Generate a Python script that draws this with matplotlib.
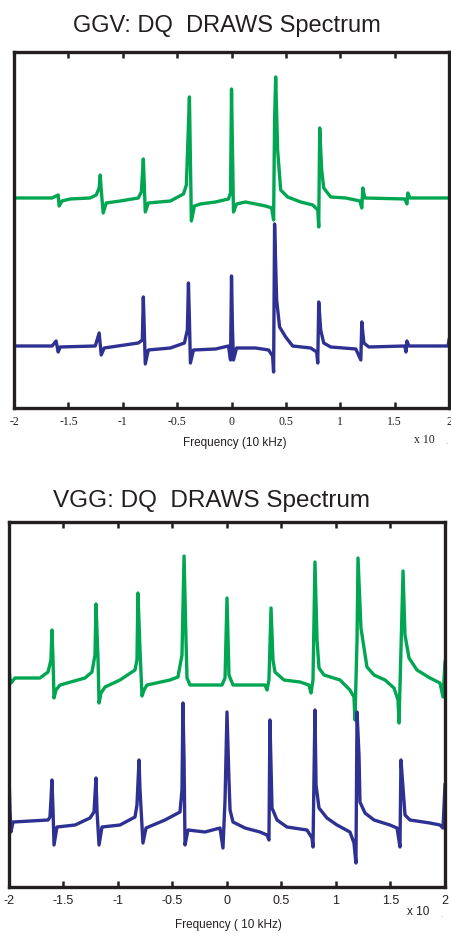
import numpy as np
from matplotlib import pyplot as plt

# frequency axis labels (10 kHz units, x 10 offset)
tick_vals = [-2, -1.5, -1, -0.5, 0, 0.5, 1, 1.5, 2]
tick_text = ['-2', '-1.5', '-1', '-0.5', '0', '0.5', '1', '1.5', '2']

# GGV spectrum, green trace (freq, intensity a.u.)
ggv_green_x = [-2.000, -1.650, -1.613, -1.594, -1.585, -1.558, -1.484, -1.300, -1.244, -1.217,
               -1.207, -1.198, -1.180, -1.152, -1.023, -0.857, -0.829, -0.811, -0.802, -0.793,
               -0.765, -0.562, -0.442, -0.415, -0.387, -0.378, -0.369, -0.341, -0.286, -0.147,
               -0.028, -0.009, 0.000, 0.009, 0.018, 0.046, 0.129, 0.221, 0.313, 0.369,
               0.387, 0.396, 0.406, 0.424, 0.452, 0.516, 0.636, 0.747, 0.793, 0.802,
               0.811, 0.829, 0.848, 0.912, 1.051, 1.180, 1.198, 1.207, 1.226, 1.594,
               1.613, 1.622, 1.641, 2.000]
ggv_green_y = [210, 210, 212, 213, 202, 207, 209, 210, 213, 220,
               233, 218, 195, 205, 207, 210, 216, 249, 223, 196,
               205, 207, 214, 223, 311, 248, 187, 202, 204, 206,
               209, 215, 319, 258, 196, 204, 206, 204, 202, 200,
               188, 288, 331, 258, 218, 211, 206, 203, 198, 181,
               280, 238, 220, 211, 210, 207, 200, 220, 210, 209,
               204, 215, 210, 210]

# GGV spectrum, blue trace
ggv_blue_x = [-2.000, -1.650, -1.613, -1.594, -1.576, -1.253, -1.217, -1.198, -1.171, -0.857,
              -0.820, -0.811, -0.802, -0.793, -0.765, -0.562, -0.433, -0.406, -0.396, -0.387,
              -0.378, -0.350, -0.147, -0.028, -0.009, 0.000, 0.009, 0.018, 0.046, 0.221,
              0.341, 0.378, 0.387, 0.396, 0.415, 0.442, 0.498, 0.562, 0.728, 0.783,
              0.793, 0.802, 0.820, 0.848, 0.912, 1.143, 1.189, 1.198, 1.217, 1.263,
              1.594, 1.604, 1.613, 1.631, 1.991, 2.000]
ggv_blue_y = [62, 62, 67, 56, 61, 62, 75, 53, 60, 65,
              68, 111, 78, 44, 58, 60, 65, 78, 125, 88,
              45, 58, 59, 62, 48, 132, 78, 48, 60, 60,
              58, 52, 36, 184, 108, 81, 71, 62, 60, 56,
              45, 106, 78, 65, 61, 59, 48, 86, 65, 61,
              62, 56, 67, 62, 62, 68]

# VGG spectrum, green trace
vgg_green_x = [-2.000, -1.991, -1.982, -1.945, -1.716, -1.642, -1.615, -1.606, -1.596, -1.587,
               -1.569, -1.532, -1.303, -1.239, -1.211, -1.202, -1.183, -1.174, -1.156, -1.119,
               -0.982, -0.844, -0.826, -0.817, -0.798, -0.780, -0.761, -0.734, -0.523, -0.450,
               -0.413, -0.394, -0.376, -0.367, -0.339, -0.046, -0.018, 0.000, 0.018, 0.055,
               0.349, 0.367, 0.385, 0.404, 0.422, 0.440, 0.523, 0.670, 0.752, 0.771,
               0.789, 0.807, 0.826, 0.844, 0.890, 1.037, 1.128, 1.165, 1.174, 1.193,
               1.202, 1.229, 1.284, 1.349, 1.450, 1.532, 1.569, 1.578, 1.596, 1.615,
               1.633, 1.670, 1.743, 1.862, 1.954, 1.982, 2.000]
vgg_green_y = [220, 207, 204, 209, 209, 215, 227, 257, 227, 189,
               197, 202, 209, 215, 232, 283, 227, 184, 194, 200,
               207, 217, 227, 294, 237, 191, 197, 202, 207, 210,
               232, 331, 247, 209, 202, 202, 209, 289, 212, 202,
               202, 197, 207, 279, 227, 215, 207, 205, 202, 194,
               207, 325, 247, 219, 212, 207, 197, 190, 167, 247,
               329, 259, 220, 212, 207, 199, 187, 164, 237, 316,
               252, 229, 217, 209, 204, 190, 225]

# VGG spectrum, blue trace
vgg_blue_x = [-2.000, -1.991, -1.982, -1.963, -1.642, -1.624, -1.615, -1.606, -1.596, -1.587,
              -1.560, -1.394, -1.257, -1.220, -1.202, -1.193, -1.174, -1.147, -0.982, -0.844,
              -0.826, -0.807, -0.798, -0.771, -0.743, -0.569, -0.431, -0.413, -0.404, -0.394,
              -0.385, -0.358, -0.202, -0.064, -0.037, -0.018, 0.000, 0.018, 0.028, 0.055,
              0.165, 0.303, 0.367, 0.385, 0.394, 0.413, 0.459, 0.550, 0.734, 0.780,
              0.789, 0.807, 0.817, 0.844, 0.917, 1.009, 1.128, 1.165, 1.183, 1.193,
              1.211, 1.220, 1.266, 1.349, 1.495, 1.560, 1.587, 1.596, 1.615, 1.633,
              1.679, 1.862, 1.954, 1.982, 2.000]
vgg_blue_y = [112, 77, 55, 65, 67, 70, 87, 107, 77, 42,
              60, 62, 69, 75, 109, 77, 42, 60, 62, 70,
              82, 127, 97, 44, 59, 67, 75, 97, 184, 127,
              42, 57, 55, 59, 39, 87, 175, 107, 77, 65,
              59, 55, 52, 47, 167, 79, 67, 60, 57, 49,
              40, 177, 102, 79, 69, 62, 55, 44, 24, 175,
              132, 85, 74, 67, 62, 59, 40, 127, 99, 72,
              67, 64, 62, 59, 102]

green = '#00a651'
blue = '#2e3192'
ink = '#231f20'

fig = plt.figure(figsize=(4.52, 9.33), dpi=100)

def frame(ax, ylim, lab_font, lab_size):
    ax.set_xlim(-2, 2)
    ax.set_ylim(*ylim)
    ax.set_yticks([])
    ax.set_xticks(tick_vals)
    ax.set_xticklabels(tick_text, fontfamily=lab_font, fontsize=lab_size, color=ink)
    ax.tick_params(axis='x', direction='in', top=True, length=4, width=1.8, pad=6, color=ink)
    for s in ax.spines.values():
        s.set_linewidth(2.4)
        s.set_color(ink)

# --- GGV panel ---
ax1 = fig.add_axes([0.031, 0.5627, 0.9624, 0.3816])
ax1.plot(ggv_green_x, ggv_green_y, color=green, lw=2.4)
ax1.plot(ggv_blue_x, ggv_blue_y, color=blue, lw=2.4)
frame(ax1, (0, 356), 'Liberation Serif', 8.5)
fig.text(0.503, 1 - 26 / 933, 'GGV: DQ  DRAWS Spectrum', ha='center', va='center',
         fontsize=17, family='Liberation Sans', color=ink)
fig.text(0.52, 1 - 443 / 933, 'Frequency (10 kHz)', ha='center', va='center',
         fontsize=8.5, family='Liberation Sans', color=ink)
fig.text(424 / 452, 1 - 440 / 933, 'x 10', ha='center', va='center',
         fontsize=8.5, family='Liberation Serif', color=ink)
fig.text(446 / 452, 1 - 442 / 933, '.', ha='center', va='center', fontsize=5, color='#888888')

# --- VGG panel ---
ax2 = fig.add_axes([0.0199, 0.0493, 0.9646, 0.3912])
ax2.plot(vgg_green_x, vgg_green_y, color=green, lw=2.4)
ax2.plot(vgg_blue_x, vgg_blue_y, color=blue, lw=2.4)
frame(ax2, (0, 365), 'Liberation Sans', 9)
fig.text(212 / 452, 1 - 501 / 933, 'VGG: DQ  DRAWS Spectrum', ha='center', va='center',
         fontsize=17.5, family='Liberation Sans', color=ink)
fig.text(228 / 452, 1 - 925 / 933, 'Frequency ( 10 kHz)', ha='center', va='center',
         fontsize=8.5, family='Liberation Sans', color=ink)
fig.text(418 / 452, 1 - 912 / 933, 'x 10', ha='center', va='center',
         fontsize=8.5, family='Liberation Sans', color=ink)
fig.text(441 / 452, 1 - 915 / 933, '.', ha='center', va='center', fontsize=5, color='#888888')

fig.savefig('out.png', dpi=100)
